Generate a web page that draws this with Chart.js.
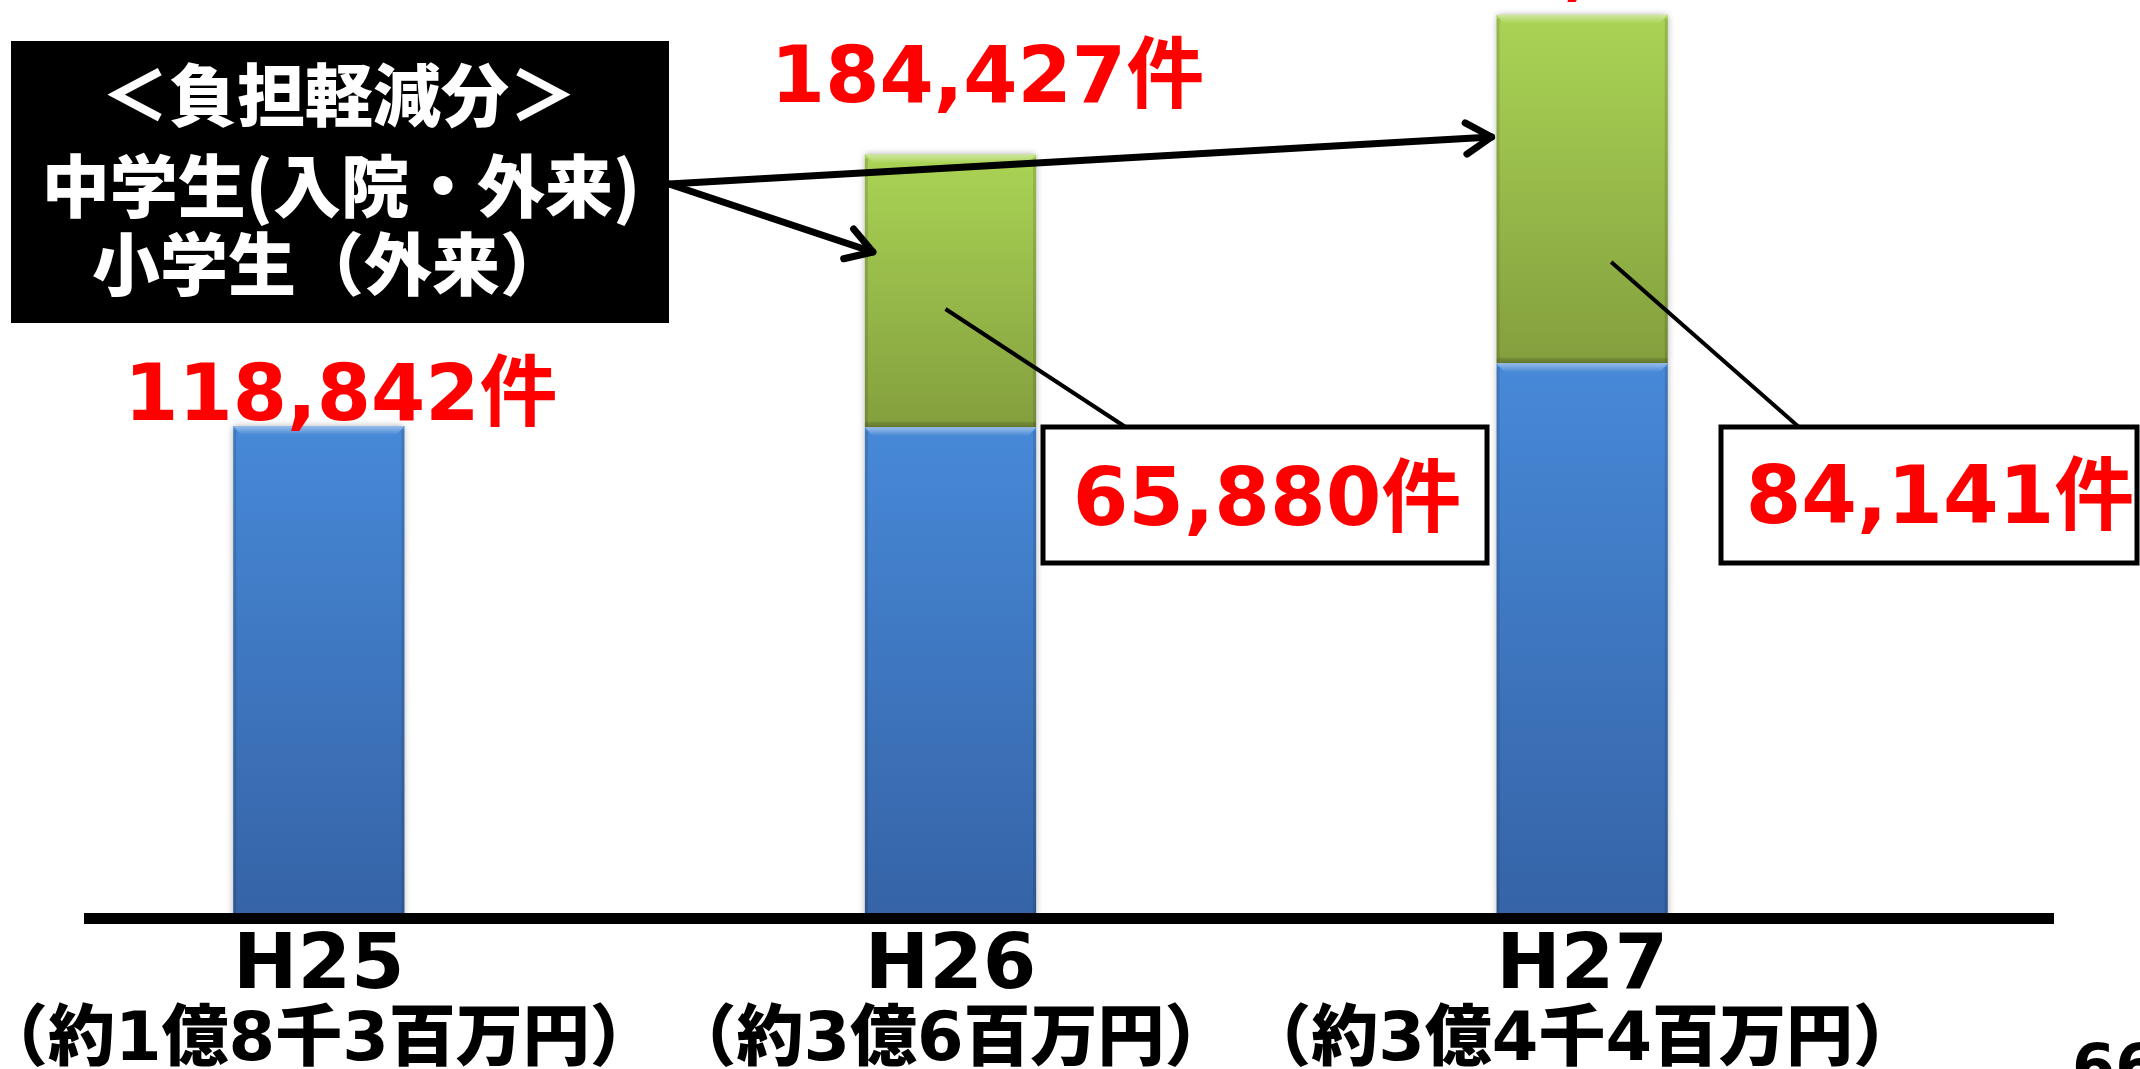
<!DOCTYPE html>
<html lang="ja">
<head>
<meta charset="utf-8">
<title>負担軽減分 件数</title>
<script src="https://cdn.jsdelivr.net/npm/chart.js@4/dist/chart.umd.min.js"></script>
<style>
  html, body { margin: 0; background: #fff; overflow: hidden; }
  #wrap { position: relative; width: 2140px; height: 1069px; }
</style>
</head>
<body>
<div id="wrap"><canvas id="chart"></canvas></div>
<script>
"use strict";

const YEARS = ["H25", "H26", "H27"];
const COSTS = ["（約1億8千3百万円）", "（約3億6百万円）", "（約3億4千4百万円）"];
const BASE_CASES = [118842, 118547, 134000];   // 件数（従来分）
const RELIEF_CASES = [0, 65880, 84141];        // 負担軽減分
const BOX_LINES = ["＜負担軽減分＞", "中学生(入院・外来)", "小学生（外来）"];
const PAGE_NO = "66";

const LATIN = "'DejaVu Sans', 'Noto Sans CJK JP', sans-serif";
const JP = "'Noto Sans CJK JP', sans-serif";

const fmt = (n) => n.toLocaleString("en-US") + "件";
const total = (i) => BASE_CASES[i] + RELIEF_CASES[i];

// vertical gradient spanning one stacked segment
function segmentFill(top, bottom) {
  return (c) => {
    const { chart, dataIndex, datasetIndex } = c;
    if (!chart.chartArea) return bottom;
    const y = chart.scales.y;
    const from = datasetIndex === 0 ? 0 : BASE_CASES[dataIndex];
    const to = datasetIndex === 0 ? BASE_CASES[dataIndex] : total(dataIndex);
    const g = chart.ctx.createLinearGradient(0, y.getPixelForValue(to), 0, y.getPixelForValue(from));
    g.addColorStop(0, top);
    g.addColorStop(1, bottom);
    return g;
  };
}

const shadow = {
  id: "shadow",
  beforeDatasetsDraw(chart) {
    const c = chart.ctx;
    c.save();
    c.shadowColor = "rgba(0,0,0,0.35)";
    c.shadowBlur = 7;
  },
  afterDatasetsDraw(chart) { chart.ctx.restore(); },
};

// light top edge and darker sides, like a soft bevel
const bevel = {
  id: "bevel",
  afterDatasetsDraw(chart) {
    const c = chart.ctx;
    c.save();
    chart.data.datasets.forEach((ds, di) => {
      chart.getDatasetMeta(di).data.forEach((bar) => {
        const h = bar.base - bar.y;
        if (h < 2) return;
        const l = bar.x - bar.width / 2, r = bar.x + bar.width / 2;
        const g = c.createLinearGradient(0, bar.y, 0, bar.y + 9);
        g.addColorStop(0, "rgba(255,255,255,0.45)");
        g.addColorStop(1, "rgba(255,255,255,0)");
        c.fillStyle = g;
        c.beginPath();
        c.moveTo(l, bar.y); c.lineTo(r, bar.y); c.lineTo(r - 8, bar.y + 9); c.lineTo(l + 8, bar.y + 9);
        c.closePath(); c.fill();
        c.fillStyle = "rgba(0,0,0,0.12)";
        c.fillRect(l, bar.y + 4, 3, h - 4);
        c.fillRect(r - 3, bar.y + 4, 3, h - 4);
        c.fillStyle = "rgba(0,0,0,0.10)";
        c.fillRect(l, bar.base - 5, bar.width, 5);
      });
    });
    c.restore();
  },
};

function arrow(c, x0, y0, x1, y1, head) {
  c.beginPath(); c.moveTo(x0, y0); c.lineTo(x1, y1); c.stroke();
  const a = Math.atan2(y1 - y0, x1 - x0);
  c.beginPath();
  c.moveTo(x1 - head * Math.cos(a - 0.55), y1 - head * Math.sin(a - 0.55));
  c.lineTo(x1, y1);
  c.lineTo(x1 - head * Math.cos(a + 0.55), y1 - head * Math.sin(a + 0.55));
  c.stroke();
}

function callout(c, x, y, w, h, text, tx, ty) {
  c.fillStyle = "#fff";
  c.fillRect(x, y, w, h);
  c.lineWidth = 5;
  c.strokeStyle = "#000";
  c.strokeRect(x, y, w, h);
  c.fillStyle = "#ff0000";
  c.font = "bold 80px " + LATIN;
  c.textAlign = "center";
  c.textBaseline = "alphabetic";
  c.fillText(text, tx, ty);
}

const annotations = {
  id: "annotations",
  afterDraw(chart) {
    const c = chart.ctx;
    const bars = chart.getDatasetMeta(0).data;
    const tops = chart.getDatasetMeta(1).data;
    const base = chart.scales.y.getPixelForValue(0);
    c.save();

    // axis line
    c.fillStyle = "#000";
    c.fillRect(84, base - 5, 1970, 11);

    // year + cost under each bar
    c.textAlign = "center";
    c.textBaseline = "alphabetic";
    bars.forEach((bar, i) => {
      c.fillStyle = "#000";
      c.font = "bold 77px " + LATIN;
      c.fillText(YEARS[i], bar.x, base + 70);
      c.font = "900 67px " + LATIN;
      c.fillText(COSTS[i], bar.x, base + 142);
    });

    // totals above the bars
    const gap = [6, 52, 24], shift = [22, 37, 35];
    c.fillStyle = "#ff0000";
    c.font = "bold 78px " + LATIN;
    tops.forEach((bar, i) => {
      c.fillText(fmt(total(i)), bar.x + shift[i], bar.y - gap[i]);
    });

    // leader lines from the relief segments to their boxes
    c.strokeStyle = "#000";
    c.lineWidth = 4;
    c.beginPath(); c.moveTo(tops[1].x - 5, 309); c.lineTo(1127, 428); c.stroke();
    c.beginPath(); c.moveTo(tops[2].x + 29, 262); c.lineTo(1800, 428); c.stroke();
    callout(c, 1043, 427, 444, 136, fmt(RELIEF_CASES[1]), 1267, 525);
    callout(c, 1721, 427, 416, 136, fmt(RELIEF_CASES[2]), 1940, 523);

    // legend box with arrows
    c.fillStyle = "#000";
    c.fillRect(11, 41, 658, 282);
    c.fillStyle = "#fff";
    c.font = "900 68px " + JP;
    c.textBaseline = "middle";
    c.fillText(BOX_LINES[0], 339, 95);
    c.fillText(BOX_LINES[1], 341, 186);
    c.fillText(BOX_LINES[2], 330, 264);

    c.strokeStyle = "#000";
    c.lineWidth = 7;
    c.lineCap = "round";
    c.lineJoin = "round";
    arrow(c, 669, 184, tops[2].x - tops[2].width / 2 - 5, 137, 30);
    arrow(c, 669, 184, tops[1].x - tops[1].width / 2 + 8, 252, 30);

    // page number
    c.fillStyle = "#000";
    c.font = "bold 62px " + LATIN;
    c.textAlign = "left";
    c.textBaseline = "alphabetic";
    c.fillText(PAGE_NO, 2072, 1088);
    c.restore();
  },
};

new Chart(document.getElementById("chart"), {
  type: "bar",
  data: {
    labels: YEARS,
    datasets: [
      { data: BASE_CASES, backgroundColor: segmentFill("#4789d8", "#3563a6") },
      { data: RELIEF_CASES, backgroundColor: segmentFill("#aad455", "#849f3e") },
    ],
  },
  options: {
    responsive: true,
    maintainAspectRatio: false,
    devicePixelRatio: 1,
    animation: false,
    layout: { padding: { left: 3, right: 242, top: 0, bottom: 151 } },
    datasets: { bar: { categoryPercentage: 1, barPercentage: 0.271, borderWidth: 0 } },
    scales: {
      x: { stacked: true, display: false },
      y: { stacked: true, display: false, min: 0, max: 221700 },
    },
    plugins: { legend: { display: false }, tooltip: { enabled: false } },
  },
  plugins: [shadow, bevel, annotations],
});
</script>
</body>
</html>
